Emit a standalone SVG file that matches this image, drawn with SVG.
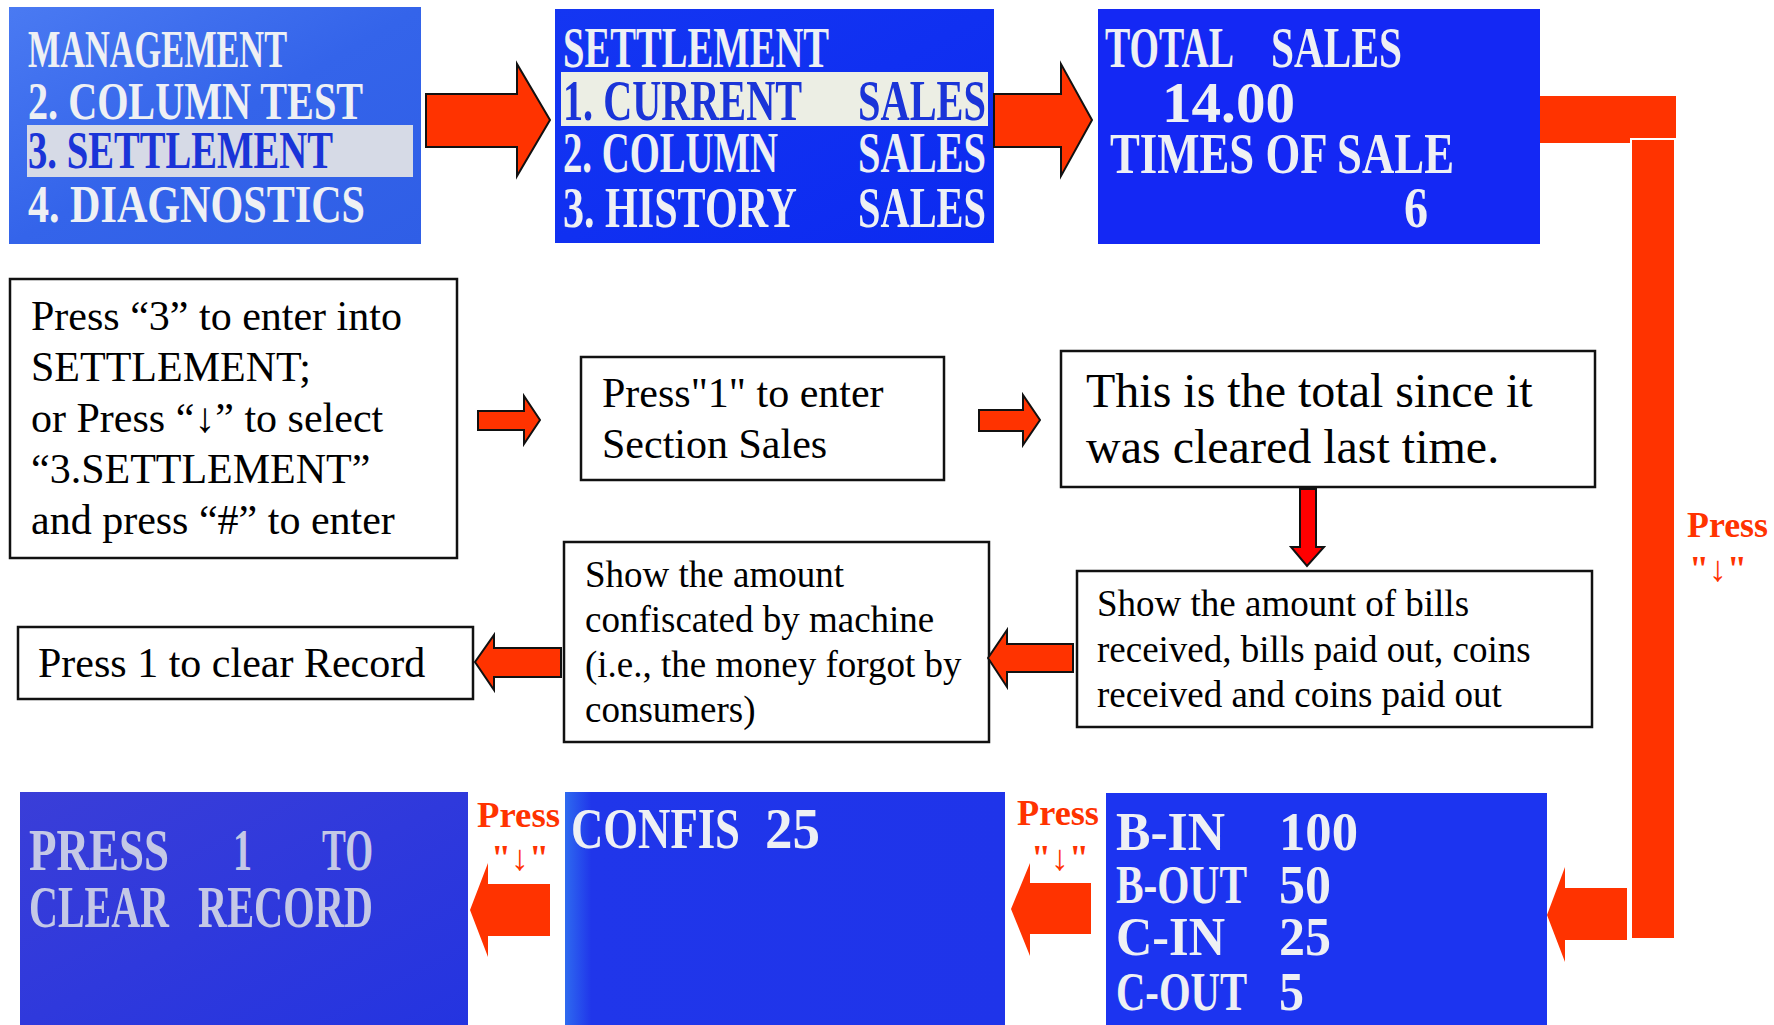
<svg xmlns="http://www.w3.org/2000/svg" width="1774" height="1025" viewBox="0 0 1774 1025">
<style>
.box{fill:#fff;stroke:#111;stroke-width:2.5}
.bt{font-family:"Liberation Serif","Times New Roman",serif;fill:#000}
.lcd{font-family:"Liberation Serif","Times New Roman",serif;font-weight:bold;fill:#eef0f4}
.lcdb{font-family:"Liberation Serif","Times New Roman",serif;font-weight:bold;fill:#1a34d8}
.arr{fill:#ff3300;stroke:#111;stroke-width:2}
.arrn{fill:#ff3300}
.lbl{font-family:"Liberation Serif","Times New Roman",serif;font-weight:bold;fill:#ff3300;font-size:36px}
</style>
<defs>
<linearGradient id="g1" x1="0" y1="0" x2="1" y2="1">
<stop offset="0" stop-color="#4a7af2"/><stop offset="0.5" stop-color="#3464ea"/><stop offset="1" stop-color="#2f5ee6"/>
</linearGradient>
<linearGradient id="g2" x1="0" y1="0" x2="1" y2="1">
<stop offset="0" stop-color="#1436f2"/><stop offset="1" stop-color="#0c2af0"/>
</linearGradient>
<linearGradient id="g4" x1="0" y1="0" x2="1" y2="1">
<stop offset="0" stop-color="#3a3ed8"/><stop offset="1" stop-color="#2434e0"/>
</linearGradient>
<linearGradient id="g5" x1="0" y1="0" x2="1" y2="0">
<stop offset="0" stop-color="#2e6af0"/><stop offset="0.06" stop-color="#2036ea"/><stop offset="1" stop-color="#1f34ea"/>
</linearGradient>
</defs>
<rect width="1774" height="1025" fill="#fff"/>

<g id="screen-management">
<rect x="9" y="7" width="412" height="237" fill="url(#g1)"/>
<rect x="27" y="125" width="386" height="52" fill="#d6dae6"/>
<text class="lcd" x="28" y="67" font-size="52" textLength="259" lengthAdjust="spacingAndGlyphs">MANAGEMENT</text>
<text class="lcd" x="28" y="119" font-size="52" textLength="335" lengthAdjust="spacingAndGlyphs">2. COLUMN  TEST</text>
<text class="lcdb" x="28" y="168" font-size="52" textLength="305" lengthAdjust="spacingAndGlyphs">3. SETTLEMENT</text>
<text class="lcd" x="28" y="222" font-size="52" textLength="337" lengthAdjust="spacingAndGlyphs">4. DIAGNOSTICS</text>
</g>

<g id="screen-settlement">
<rect x="555" y="9" width="439" height="234" fill="url(#g2)"/>
<rect x="561" y="72" width="427" height="54" fill="#eceee4"/>
<text class="lcd" x="563" y="67" font-size="56" textLength="266" lengthAdjust="spacingAndGlyphs">SETTLEMENT</text>
<text class="lcdb" x="563" y="120" font-size="58" textLength="239" lengthAdjust="spacingAndGlyphs">1. CURRENT</text>
<text class="lcdb" x="858" y="120" font-size="58" textLength="128" lengthAdjust="spacingAndGlyphs">SALES</text>
<text class="lcd" x="563" y="172" font-size="56" textLength="215" lengthAdjust="spacingAndGlyphs">2. COLUMN</text>
<text class="lcd" x="858" y="172" font-size="56" textLength="128" lengthAdjust="spacingAndGlyphs">SALES</text>
<text class="lcd" x="563" y="227" font-size="58" textLength="234" lengthAdjust="spacingAndGlyphs">3. HISTORY</text>
<text class="lcd" x="858" y="227" font-size="58" textLength="128" lengthAdjust="spacingAndGlyphs">SALES</text>
</g>

<g id="screen-total">
<rect x="1098" y="9" width="442" height="235" fill="#1428f4"/>
<text class="lcd" x="1105" y="67" font-size="56" textLength="129" lengthAdjust="spacingAndGlyphs">TOTAL</text>
<text class="lcd" x="1271" y="67" font-size="56" textLength="131" lengthAdjust="spacingAndGlyphs">SALES</text>
<text class="lcd" x="1162" y="122" font-size="56" textLength="133" lengthAdjust="spacingAndGlyphs">14.00</text>
<text class="lcd" x="1110" y="173" font-size="56" textLength="344" lengthAdjust="spacingAndGlyphs">TIMES OF SALE</text>
<text class="lcd" x="1404" y="227" font-size="56" textLength="24" lengthAdjust="spacingAndGlyphs">6</text>
</g>

<g id="box-press3">
<rect class="box" x="10" y="279" width="447" height="279"/>
<text class="bt" font-size="42"><tspan x="31" y="330">Press “3” to enter into</tspan><tspan x="31" y="381">SETTLEMENT;</tspan><tspan x="31" y="432">or Press “↓” to select</tspan><tspan x="31" y="483">“3.SETTLEMENT”</tspan><tspan x="31" y="534">and press “#” to enter</tspan></text>
</g>

<g id="box-press1">
<rect class="box" x="581" y="357" width="363" height="123"/>
<text class="bt" font-size="42"><tspan x="602" y="407">Press"1" to enter</tspan><tspan x="602" y="458">Section Sales</tspan></text>
</g>

<g id="box-total">
<rect class="box" x="1061" y="351" width="534" height="136"/>
<text class="bt" font-size="48"><tspan x="1086" y="407">This is the total since it</tspan><tspan x="1086" y="463">was cleared last time.</tspan></text>
</g>

<g id="box-bills">
<rect class="box" x="1077" y="571" width="515" height="156"/>
<text class="bt" font-size="37"><tspan x="1097" y="616">Show the amount of bills</tspan><tspan x="1097" y="662">received, bills paid out, coins</tspan><tspan x="1097" y="707">received and coins paid out</tspan></text>
</g>

<g id="box-confiscated">
<rect class="box" x="564" y="542" width="425" height="200"/>
<text class="bt" font-size="37"><tspan x="585" y="587">Show the amount</tspan><tspan x="585" y="632">confiscated by machine</tspan><tspan x="585" y="677">(i.e., the money forgot by</tspan><tspan x="585" y="722">consumers)</tspan></text>
</g>

<g id="box-clear">
<rect class="box" x="18" y="627" width="455" height="72"/>
<text class="bt" font-size="42" x="38" y="677">Press 1 to clear Record</text>
</g>

<g id="screen-press1">
<rect x="20" y="792" width="448" height="233" fill="url(#g4)"/>
<g fill="#c4c8e6" font-family="Liberation Serif, Times New Roman, serif" font-weight="bold" font-size="60">
<text x="29" y="870" textLength="140" lengthAdjust="spacingAndGlyphs">PRESS</text>
<text x="233" y="870" textLength="19" lengthAdjust="spacingAndGlyphs">1</text>
<text x="322" y="870" textLength="51" lengthAdjust="spacingAndGlyphs">TO</text>
<text x="29" y="927" textLength="140" lengthAdjust="spacingAndGlyphs">CLEAR</text>
<text x="198" y="927" textLength="175" lengthAdjust="spacingAndGlyphs">RECORD</text>
</g>
</g>

<g id="screen-confis">
<rect x="565" y="792" width="440" height="233" fill="url(#g5)"/>
<text class="lcd" x="571" y="848" font-size="56" textLength="169" lengthAdjust="spacingAndGlyphs">CONFIS</text>
<text class="lcd" x="765" y="848" font-size="56" textLength="55" lengthAdjust="spacingAndGlyphs">25</text>
</g>

<g id="screen-bin">
<rect x="1106" y="793" width="441" height="232" fill="#1c34f0"/>
<text class="lcd" x="1116" y="850" font-size="54" textLength="109" lengthAdjust="spacingAndGlyphs">B-IN</text>
<text class="lcd" x="1279" y="850" font-size="54" textLength="79" lengthAdjust="spacingAndGlyphs">100</text>
<text class="lcd" x="1116" y="903" font-size="54" textLength="131" lengthAdjust="spacingAndGlyphs">B-OUT</text>
<text class="lcd" x="1279" y="903" font-size="54" textLength="52" lengthAdjust="spacingAndGlyphs">50</text>
<text class="lcd" x="1116" y="955" font-size="54" textLength="109" lengthAdjust="spacingAndGlyphs">C-IN</text>
<text class="lcd" x="1279" y="955" font-size="54" textLength="52" lengthAdjust="spacingAndGlyphs">25</text>
<text class="lcd" x="1116" y="1010" font-size="54" textLength="131" lengthAdjust="spacingAndGlyphs">C-OUT</text>
<text class="lcd" x="1279" y="1010" font-size="54" textLength="25" lengthAdjust="spacingAndGlyphs">5</text>
</g>

<g id="connectors">
<polygon class="arr" points="426,94 517,94 517,64 550,120 517,176 517,147 426,147"/>
<polygon class="arr" points="994,94 1061,94 1061,64 1092,120 1061,176 1061,147 994,147"/>
<polygon class="arr" points="478,411 524,411 524,396 540,420 524,444 524,430 478,430"/>
<polygon class="arr" points="979,410 1023,410 1023,395 1040,420 1023,445 1023,431 979,431"/>
<polygon points="1300,489 1316,489 1316,547 1324,547 1307,566 1291,547 1300,547" fill="#ff0000" stroke="#111" stroke-width="2"/>
<polygon class="arr" points="1073,644 1007,644 1007,630 988,658 1007,687 1007,672 1073,672"/>
<polygon class="arr" points="561,648 494,648 494,635 475,662 494,690 494,677 561,677"/>
<rect class="arrn" x="1540" y="96" width="136" height="47"/>
<rect class="arrn" x="1631" y="139" width="44" height="800" stroke="#fff" stroke-width="2"/>
<polygon class="arrn" points="1627,888 1565,888 1565,867 1547,915 1565,962 1565,940 1627,940"/>
<polygon class="arrn" points="1091,883 1030,883 1030,863 1011,909 1030,956 1030,934 1091,934"/>
<polygon class="arrn" points="550,884 488,884 488,863 470,910 488,957 488,936 550,936"/>
<text class="lbl" x="1687" y="537" textLength="81" lengthAdjust="spacingAndGlyphs">Press</text>
<text class="lbl" x="1689" y="581">"<tspan font-weight="normal">↓</tspan>"</text>
<text class="lbl" x="477" y="827" textLength="83" lengthAdjust="spacingAndGlyphs">Press</text>
<text class="lbl" x="491" y="870">"<tspan font-weight="normal">↓</tspan>"</text>
<text class="lbl" x="1017" y="825" textLength="82" lengthAdjust="spacingAndGlyphs">Press</text>
<text class="lbl" x="1031" y="870">"<tspan font-weight="normal">↓</tspan>"</text>
</g>
</svg>
